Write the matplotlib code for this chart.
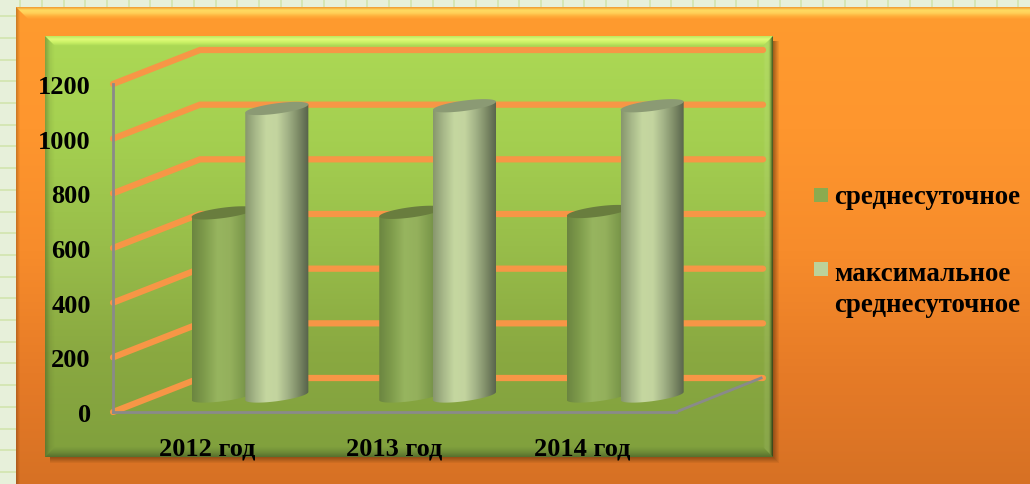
#!/usr/bin/env python3

import numpy as np
import matplotlib
matplotlib.use('Agg')
import matplotlib.pyplot as plt
from matplotlib.colors import LinearSegmentedColormap
from matplotlib.patches import PathPatch, Polygon, Rectangle
from matplotlib.path import Path

plt.rcParams['font.family'] = ['Liberation Serif', 'DejaVu Serif']
plt.rcParams['font.weight'] = 'bold'

W, H = 1030, 485

# Chart data
years = ['2012 год', '2013 год', '2014 год']
avg_daily = [670, 672, 675]
max_daily = [1052, 1062, 1062]
y_ticks = [0, 200, 400, 600, 800, 1000, 1200]
legend_labels = ['среднесуточное', 'максимальное\nсреднесуточное']

# 3D look: how far the back wall is shifted, in data units
DEPTH_X = 87 / 187.67
DEPTH_Y = 34 / 0.2733
MID = 0.47
BAR_OFFSET = 0.012
BAR_HALF = 0.168
BAR_SHIFT = 0.143
ELL_B = 19.0
ELL_S = 15.0

ORANGE = '#f79646'
GREY = '#8a8a8a'
DARK_STOPS = ['#6b8540', '#7f9c4c', '#97b55f', '#94b05c', '#7d9a4c', '#637b3c']
LIGHT_STOPS = ['#87966d', '#a8b98a', '#c5d7a0', '#c3d49f', '#a3b387', '#7e8c67', '#55614a']
DARK_TOP = '#697d3e'
LIGHT_TOP = '#8b9a74'


def gradient(ax, box, stops, vertical=True, clip=None):
    """Fill a pixel box with a linear gradient, optionally clipped"""
    x0, y0, x1, y1 = box
    cmap = LinearSegmentedColormap.from_list('g', stops, N=256)
    g = np.linspace(0, 1, 256)
    g = g.reshape(-1, 1) if vertical else g.reshape(1, -1)
    im = ax.imshow(g, cmap=cmap, extent=(x0, x1, y1, y0), aspect='auto',
                   interpolation='bilinear', vmin=0, vmax=1, zorder=1)
    if clip is not None:
        patch = Polygon(clip, closed=True, transform=ax.transData, fc='none', ec='none')
        ax.add_patch(patch)
        im.set_clip_path(patch)
    return im


def bevel_panel(ax, x0, y0, x1, y1, b, body, top, bottom, left, right):
    """Panel with a vertical gradient and four mitred bevel edges"""
    gradient(ax, (x0, y0, x1, y1), body)
    gradient(ax, (x0, y0, x1, y0 + b), top,
             clip=[(x0, y0), (x1, y0), (x1 - b, y0 + b), (x0 + b, y0 + b)])
    gradient(ax, (x0, y1 - b, x1, y1), bottom,
             clip=[(x0 + b, y1 - b), (x1 - b, y1 - b), (x1, y1), (x0, y1)])
    # side bevels are see-through so they follow the body gradient
    gradient(ax, (x0, y0, x0 + b, y1), left, vertical=False,
             clip=[(x0, y0), (x0 + b, y0 + b), (x0 + b, y1 - b), (x0, y1)])
    gradient(ax, (x1 - b, y0, x1, y1), right, vertical=False,
             clip=[(x1 - b, y0 + b), (x1, y0), (x1, y1), (x1 - b, y1 - b)])


def draw_cylinder(ax, fig, xc, value, stops, top_color, zorder):
    """Draw one tilted cylinder in data units"""
    t = np.linspace(0, np.pi, 60)
    base = MID * DEPTH_Y
    # lower half of the base ellipse, from left to right
    bx = xc - BAR_HALF * np.cos(t)
    by = base - ELL_B * np.sin(t) - ELL_S * np.cos(t)
    outline = np.column_stack([np.r_[bx, xc + BAR_HALF, xc - BAR_HALF],
                               np.r_[by, base + value + ELL_S, base + value - ELL_S]])
    patch = PathPatch(Path(np.r_[outline, outline[:1]]), fc='none', ec='none',
                      transform=ax.transData, clip_on=False)
    ax.add_patch(patch)
    cmap = LinearSegmentedColormap.from_list('c', stops, N=256)
    im = ax.imshow(np.linspace(0, 1, 256).reshape(1, -1), cmap=cmap,
                   extent=(xc - BAR_HALF, xc + BAR_HALF, base - 40, base + value + 40),
                   aspect='auto', interpolation='bilinear', zorder=zorder)
    im.set_clip_path(patch)
    im.set_clip_box(fig.bbox)
    a = np.linspace(0, 2 * np.pi, 120)
    ax.fill(xc + BAR_HALF * np.cos(a), base + value + ELL_B * np.sin(a) + ELL_S * np.cos(a),
            color=top_color, lw=0, zorder=zorder + 0.1, clip_on=False)


def main():
    fig = plt.figure(figsize=(W / 100, H / 100), dpi=100)

    # Page, panels and legend live on a full-figure pixel axes
    bg = fig.add_axes([0, 0, 1, 1])
    bg.set_xlim(0, W)
    bg.set_ylim(H, 0)
    bg.axis('off')
    bg.add_patch(Rectangle((0, 0), W, H, fc='#e7f0da', ec='none', zorder=0))
    for x in np.arange(-1.5, W, 21.7):
        bg.plot([x, x], [0, H], color='#d5e6b4', lw=1.4, zorder=0.5)
    for y in np.arange(-4.5, H, 21.7):
        bg.plot([0, W], [y, y], color='#d5e6b4', lw=1.4, zorder=0.5)

    bevel_panel(bg, 16, 8, W + 12, H + 12, 12,
                ['#ff9b2f', '#fe962e', '#f78c2b', '#e67b27', '#d57024'],
                ['#f0962e', '#ffdb62', '#ffd058', '#ffb03c', '#ff9b2f'],
                ['#d57024', '#c26a2a'],
                ['#00000038', '#00000000', '#00000000', '#00000000'],
                ['#00000000', '#00000000'])

    # soft shadow of the green panel
    for i, alpha in enumerate([0.10, 0.10, 0.12, 0.14, 0.16, 0.18]):
        bg.add_patch(Rectangle((50, 42), 729 - i, 422 - i, fc='#6b3a10', ec='none',
                               alpha=alpha, zorder=1))

    bevel_panel(bg, 45, 37, 773, 458, 10,
                ['#acd955', '#a4cf50', '#98bd4a', '#8aa941', '#80a03d'],
                ['#bde85e', '#e0fb78', '#c8ef64', '#a9d654'],
                ['#7fa03d', '#6f8c38', '#566f2e'],
                ['#00000040', '#00000010', '#00000000'],
                ['#ffffff00', '#ffffff14', '#ffffff10', '#00000030', '#000000a0'])

    # Legend
    colors = ['#8bab4f', '#bcd29a']
    for y, c in zip([189, 263], colors):
        bg.add_patch(Rectangle((814, y), 14, 14, fc=c, ec='none', zorder=3))
    bg.text(834, 198, legend_labels[0], fontsize=19.4, va='center', ha='left', color='black', zorder=3)
    bg.text(834, 290, legend_labels[1], fontsize=19.4, va='center', ha='left', color='black',
            linespacing=1.3, zorder=3)

    # Chart axes: the front plane of the 3D box, with value and category units
    ax = fig.add_axes([113 / W, (H - 413) / H, (676 - 113) / W, (413 - 85) / H])
    ax.patch.set_visible(False)

    for v in y_ticks:
        ax.plot([0, DEPTH_X, 3 + DEPTH_X], [v, v + DEPTH_Y, v + DEPTH_Y], color=ORANGE,
                lw=4.5, solid_capstyle='round', solid_joinstyle='miter', clip_on=False, zorder=1.5)

    # side floor edge
    ax.plot([3, 3 + DEPTH_X - 0.01], [0, DEPTH_Y], color=GREY, lw=2, clip_on=False, zorder=2)

    for i in range(len(years)):
        xc = i + 0.5 + MID * DEPTH_X + BAR_OFFSET
        draw_cylinder(ax, fig, xc - BAR_SHIFT, avg_daily[i], DARK_STOPS, DARK_TOP, 3 + i)
        draw_cylinder(ax, fig, xc + BAR_SHIFT, max_daily[i], LIGHT_STOPS, LIGHT_TOP, 3.5 + i)

    ax.set_xlim(0, 3)
    ax.set_ylim(0, 1200)
    ax.set_xticks(np.arange(len(years)) + 0.5)
    ax.set_xticklabels(years)
    ax.set_yticks(y_ticks)
    ax.tick_params(axis='x', length=0, pad=17.5, labelsize=19)
    ax.tick_params(axis='y', length=0, pad=16, labelsize=19)
    for side in ['top', 'right']:
        ax.spines[side].set_visible(False)
    for side in ['left', 'bottom']:
        ax.spines[side].set_color(GREY)
        ax.spines[side].set_linewidth(2)

    fig.savefig('out.png', dpi=100)
    plt.close(fig)


if __name__ == "__main__":
    main()
